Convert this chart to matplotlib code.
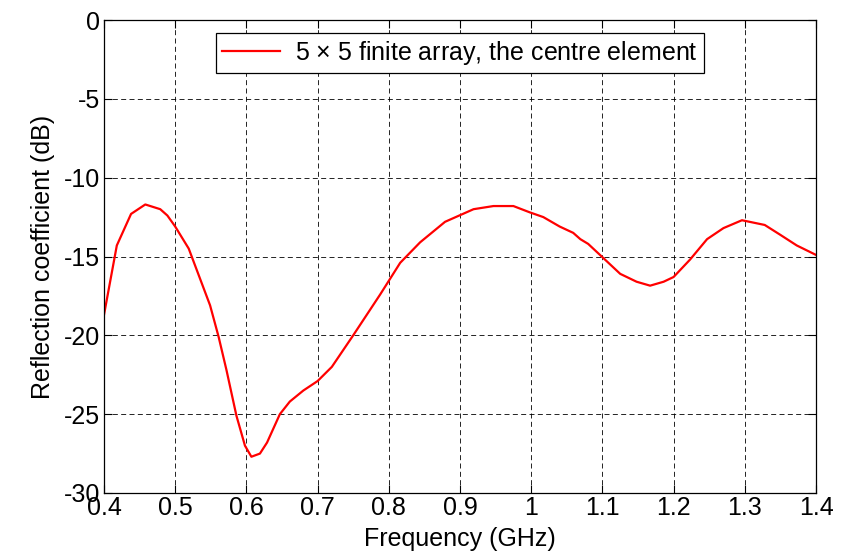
import numpy as np
import matplotlib
matplotlib.use("Agg")
import matplotlib.pyplot as plt

# Curve
freq_ghz = [0.400, 0.418, 0.438, 0.458, 0.479, 0.489, 0.500, 0.519, 0.549, 0.561,
            0.572, 0.586, 0.598, 0.607, 0.619, 0.629, 0.647, 0.661, 0.680, 0.700,
            0.720, 0.750, 0.788, 0.816, 0.844, 0.879, 0.919, 0.947, 0.975, 0.998,
            1.017, 1.040, 1.059, 1.069, 1.080, 1.099, 1.125, 1.148, 1.167, 1.186,
            1.200, 1.223, 1.247, 1.270, 1.296, 1.328, 1.349, 1.373, 1.400]
refl_db = [-18.7, -14.3, -12.3, -11.7, -12.0, -12.4, -13.1, -14.5, -18.1, -20.1,
           -22.2, -25.1, -27.0, -27.7, -27.5, -26.8, -25.0, -24.2, -23.5, -22.9,
           -22.0, -20.0, -17.4, -15.4, -14.1, -12.8, -12.0, -11.8, -11.8, -12.2,
           -12.5, -13.1, -13.5, -13.9, -14.2, -15.0, -16.1, -16.6, -16.85, -16.6,
           -16.3, -15.2, -13.9, -13.2, -12.7, -13.0, -13.6, -14.3, -14.9]
legend_label = r"5 $\times$ 5 finite array, the centre element"

plt.rcParams['font.family'] = ['Liberation Sans', 'DejaVu Sans']
plt.rcParams['mathtext.fontset'] = 'custom'
plt.rcParams['mathtext.rm'] = 'Liberation Sans'
plt.rcParams['axes.unicode_minus'] = False

fig = plt.figure(figsize=(8.46, 5.60), dpi=100)
ax = fig.add_axes([104/846, 1 - 493/560, 712/846, 473/560])

ax.plot(freq_ghz, refl_db, color='red', linewidth=1.6, label=legend_label)

ax.set_xlim(0.4, 1.4)
ax.set_ylim(-30, 0)
ax.set_xticks(np.arange(0.4, 1.41, 0.1))
ax.set_xticklabels(['0.4', '0.5', '0.6', '0.7', '0.8', '0.9', '1', '1.1', '1.2', '1.3', '1.4'])
ax.set_yticks(np.arange(-30, 1, 5))
ax.grid(True, color='black', linestyle=(0, (6, 4)), linewidth=0.6)
ax.tick_params(direction='in', top=True, right=True, length=6, width=0.8,
               labelsize=18, pad=2)
ax.tick_params(axis='y', pad=3)
for s in ax.spines.values():
    s.set_linewidth(0.9)

ax.set_xlabel('Frequency (GHz)', fontsize=18, labelpad=5)
ax.set_ylabel('Reflection coefficient (dB)', fontsize=18, labelpad=6)

leg = ax.legend(loc='upper center', fontsize=18, fancybox=False, framealpha=1,
                edgecolor='black', borderpad=0.25, handlelength=2.3,
                handletextpad=0.6, borderaxespad=0.5)
leg.get_frame().set_linewidth(0.9)

fig.savefig('out.png', dpi=100)
